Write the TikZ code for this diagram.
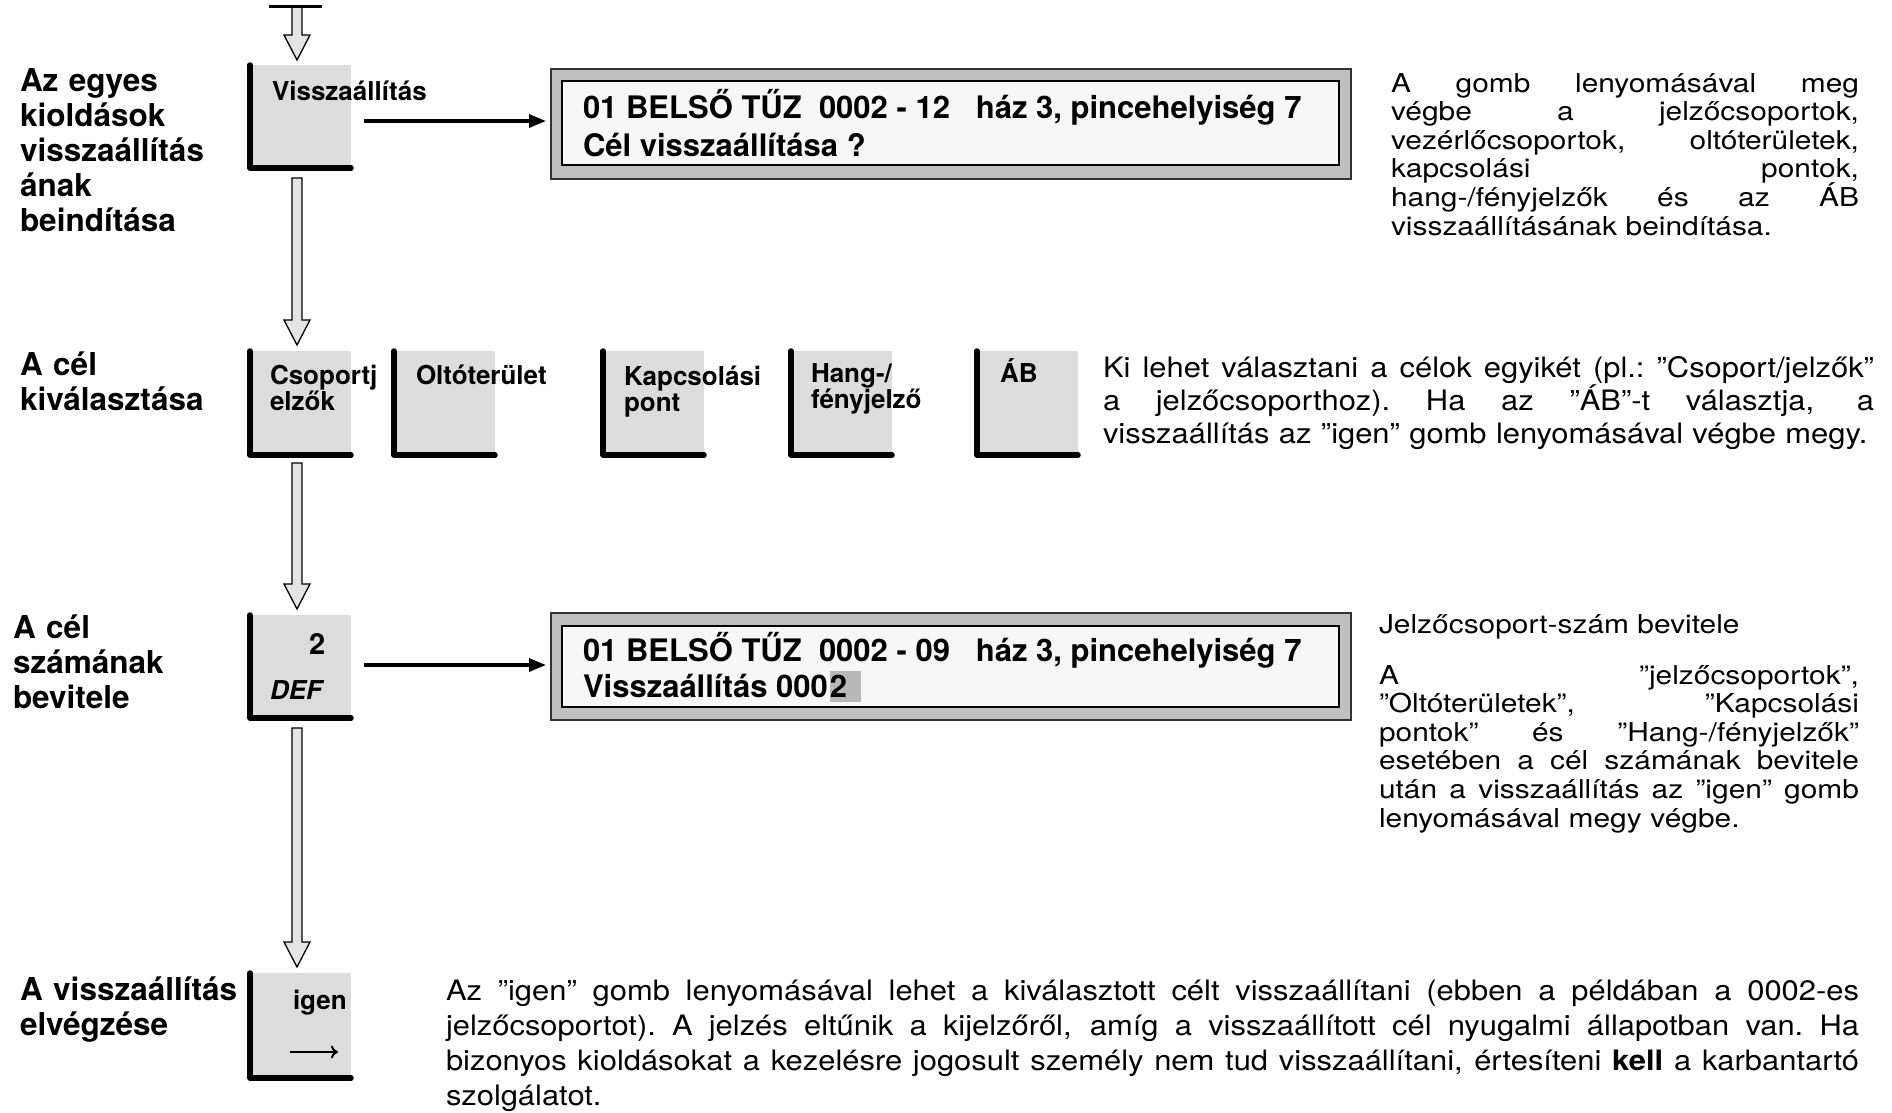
\documentclass[tikz,border=0pt]{standalone}
\usepackage{fontspec}
\setmainfont{TeX Gyre Heros}
\newfontfamily\widefontA[FakeStretch=1.15]{TeX Gyre Heros}
\newfontfamily\widefontB[FakeStretch=1.1]{TeX Gyre Heros}
\usetikzlibrary{arrows.meta,calc}
\definecolor{btngray}{HTML}{DCDCDC}
\definecolor{arrgray}{HTML}{E4E4E4}
\definecolor{lcdframe}{HTML}{C0C0C0}
\definecolor{lcdface}{HTML}{F7F7F7}
\definecolor{lcdhl}{HTML}{B8B8B8}
\newcommand\tightlines{\lineskiplimit=-50pt\relax\lineskip=0pt\relax}
\newcommand\JL[2]{\leavevmode\hbox to #1{\spaceskip=0.278em plus 1fil\relax\xspaceskip=0.278em plus 1fil\relax #2}\\}
\newcommand\cursorhl[1]{{\setlength\fboxsep{0pt}\colorbox{lcdhl}{\rule[-5pt]{0pt}{31pt}#1\hspace{14pt}}}}
\newcommand\harrow[3]{\filldraw[harrowstyle] (#1-5,#2) -- (#1+5,#2) -- (#1+5,#3-25) -- (#1+13,#3-25) -- (#1,#3) -- (#1-13,#3-25) -- (#1-5,#3-25) -- cycle;}
\begin{document}
\begin{tikzpicture}[x=1pt,y=-1pt,
  btnbox/.style={fill=btngray, draw=none, inner sep=0pt, outer sep=0pt, anchor=north west, minimum width=101pt},
  btnedge/.style={line width=5.5pt, line cap=round, line join=round},
  harrowstyle/.style={fill=arrgray, draw=black, line width=1.3pt, line join=miter},
  lcdout/.style={fill=lcdframe, draw=black!80, line width=1.3pt, inner sep=0pt, outer sep=0pt, anchor=north west, minimum width=800pt},
  lcdin/.style={fill=lcdface, draw=black, line width=1.3pt, inner sep=0pt, outer sep=0pt, anchor=north west, minimum width=777pt},
  lbl/.style={anchor=base west, inner sep=0pt, outer sep=0pt, align=left, text width=260pt, font=\fontsize{31.5}{35}\selectfont\bfseries},
  btntxt/.style={anchor=base west, inner sep=0pt, outer sep=0pt, align=left, text width=160pt, font=\fontsize{26}{26}\selectfont\bfseries},
  lcdtxt/.style={anchor=base west, inner sep=0pt, outer sep=0pt, font=\fontsize{31}{38}\selectfont\bfseries},
  para/.style={anchor=base west, inner sep=0pt, outer sep=0pt, align=left},
  wideA/.style={para, font=\widefontA\fontsize{26}{28.6}\selectfont\tightlines},
  wideB/.style={para, font=\widefontB\fontsize{28.1}{33}\selectfont\tightlines},
  conn/.style={line width=3.2pt, -{Triangle[length=17pt,width=13pt]}, shorten >=5pt}
]
\useasboundingbox (0,0) rectangle (1892,1112);

% ---- left labels
\node[lbl] (l1) at (20,91) {Az egyes\\kioldások\\visszaállítás\\ának\\beindítása};
\node[lbl] (l2) at (20,375) {A cél\\kiválasztása};
\node[lbl] (l3) at (13,638) {A cél\\számának\\bevitele};
\node[lbl] (l4) at (20,1000) {A visszaállítás\\elvégzése};

% ---- top entry arrow
\harrow{297}{6}{60}
\draw[line width=3pt] (269,6) -- (322,6);

% ---- buttons
\node[btnbox, minimum height=103pt] (b1) at (250,65) {};
\node[btnbox, minimum height=104pt] (b2a) at (250,351) {};
\node[btnbox, minimum height=104pt] (b2b) at (394,351) {};
\node[btnbox, minimum height=104pt] (b2c) at (603,351) {};
\node[btnbox, minimum height=104pt] (b2d) at (791,351) {};
\node[btnbox, minimum height=104pt] (b2e) at (977,351) {};
\node[btnbox, minimum height=103pt] (b3) at (250,615) {};
\node[btnbox, minimum height=105pt] (b4) at (250,973) {};
\foreach \b in {b1,b2a,b2b,b2c,b2d,b2e,b3,b4}
  \draw[btnedge] (\b.north west) -- (\b.south west) -- (\b.south east);

% ---- button texts
\node[btntxt] (t1) at (272,100) {Visszaállítás};
\node[btntxt] (t2a) at (270,384) {Csoportj\\elzők};
\node[btntxt] (t2b) at (416,384) {Oltóterület};
\node[btntxt] (t2c) at (624,385) {Kapcsolási\\pont};
\node[btntxt] (t2d) at (811,382) {Hang-/\\fényjelző};
\node[btntxt] (t2e) at (1000,382) {ÁB};
\node[btntxt, font=\fontsize{29}{29}\selectfont\bfseries] (t3a) at (309,654) {2};
\node[btntxt] (t3b) at (270,699) {\itshape DEF};
\node[btntxt] (t4) at (293,1009) {igen};
\coordinate (ka) at (290,1052);
\coordinate (kb) at (338,1052);
\draw[line width=2pt, -{To[length=7pt,width=13pt]}] (ka) -- (kb);

% ---- hollow flow arrows
\harrow{297}{178}{345}
\harrow{297}{463}{609}
\harrow{297}{728}{967}

% ---- LCD displays
\node[lcdout, minimum height=110pt] (lcd1) at (551,69) {};
\node[lcdin, minimum height=84pt] (lcd1i) at (562,81) {};
\node[lcdtxt] (d1a) at (583,118) {01 BELSŐ TŰZ\ \ 0002 - 12\ \ \ ház 3, pincehelyiség 7};
\node[lcdtxt] (d1b) at (583,156) {Cél visszaállítása ?};

\node[lcdout, minimum height=107pt] (lcd2) at (551,613) {};
\node[lcdin, minimum height=81pt] (lcd2i) at (562,626) {};
\node[lcdtxt] (d2a) at (583,661) {01 BELSŐ TŰZ\ \ 0002 - 09\ \ \ ház 3, pincehelyiség 7};
\node[lcdtxt] (d2b) at (583,697) {Visszaállítás 000\hspace{2pt}\cursorhl{2}};

% ---- connectors to displays
\coordinate (c1) at (364,121);
\coordinate (c3) at (364,665);
\draw[conn] (c1) -- (lcd1.west |- c1);
\draw[conn] (c3) -- (lcd2.west |- c3);

% ---- explanatory paragraphs
\node[wideA, text width=470pt] (p1) at (1391,92)
 {\JL{468pt}{A gomb lenyomásával meg}\JL{468pt}{végbe a jelzőcsoportok,}\JL{468pt}{vezérlőcsoportok, oltóterületek,}\JL{468pt}{kapcsolási pontok,}\JL{468pt}{hang-/fényjelzők és az ÁB}\mbox{visszaállításának beindítása.}};

\node[wideB, text width=775pt] (p2) at (1103,377)
 {\JL{771pt}{Ki lehet választani a célok egyikét (pl.: ”Csoport/jelzők”}\JL{771pt}{a jelzőcsoporthoz). Ha az ”ÁB”-t választja, a}\mbox{visszaállítás az ”igen” gomb lenyomásával végbe megy.}};

\node[wideA] (p3h) at (1379,633) {Jelzőcsoport-szám bevitele};
\node[wideA, text width=482pt] (p3) at (1379,684)
 {\JL{480pt}{A ”jelzőcsoportok”,}\JL{480pt}{”Oltóterületek”, ”Kapcsolási}\JL{480pt}{pontok” és ”Hang-/fényjelzők”}\JL{480pt}{esetében a cél számának bevitele}\JL{480pt}{után a visszaállítás az ”igen” gomb}\mbox{lenyomásával megy végbe.}};

\node[wideB, text width=1415pt, font=\widefontB\fontsize{28.1}{35}\selectfont\tightlines] (p4) at (446,1000)
 {\JL{1413pt}{Az ”igen” gomb lenyomásával lehet a kiválasztott célt visszaállítani (ebben a példában a 0002-es}\JL{1413pt}{jelzőcsoportot). A jelzés eltűnik a kijelzőről, amíg a visszaállított cél nyugalmi állapotban van. Ha}\JL{1413pt}{bizonyos kioldásokat a kezelésre jogosult személy nem tud visszaállítani, értesíteni \textbf{kell} a karbantartó}\mbox{szolgálatot.}};
\end{tikzpicture}
\end{document}
